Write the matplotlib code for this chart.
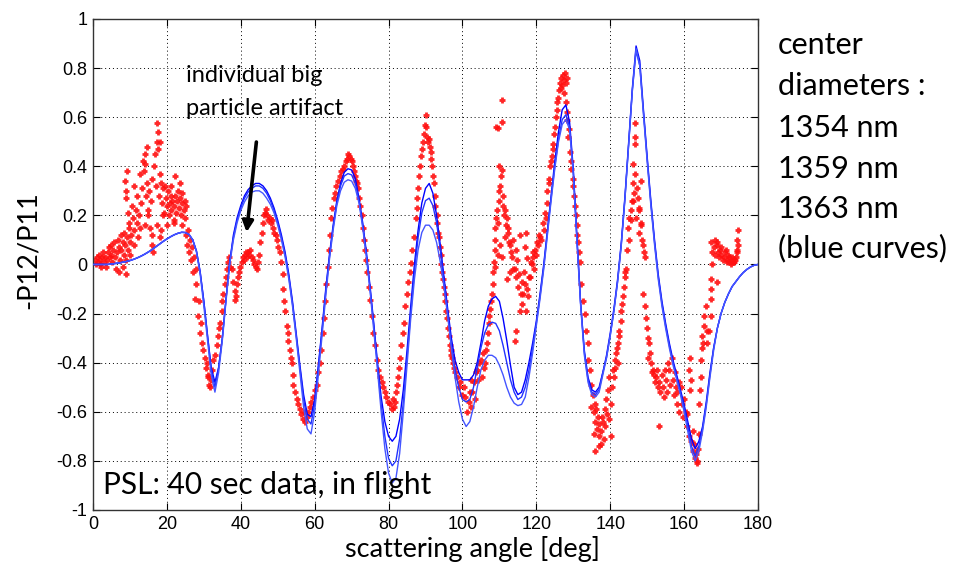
import matplotlib
matplotlib.use("Agg")
import matplotlib.pyplot as plt
import numpy as np

# ---------------- data ----------------
angle = list(range(0, 181))

curve_1354 = [
    0.0, 0.0, 0.0, 0.0, 0.0, 0.002, 0.004, 0.006, 0.009, 0.012,
    0.016, 0.021, 0.027, 0.034, 0.042, 0.051, 0.061, 0.072, 0.083, 0.094,
    0.104, 0.113, 0.121, 0.127, 0.131, 0.130, 0.122, 0.100, 0.055, -0.03,
    -0.15, -0.29, -0.42, -0.48, -0.42, -0.30, -0.14, 0.01, 0.12, 0.19,
    0.24, 0.28, 0.305, 0.32, 0.33, 0.33, 0.32, 0.30, 0.27, 0.23,
    0.18, 0.12, 0.05, -0.04, -0.15, -0.28, -0.41, -0.53, -0.61, -0.62,
    -0.55, -0.41, -0.26, -0.10, 0.04, 0.16, 0.26, 0.33, 0.375, 0.39,
    0.385, 0.35, 0.27, 0.17, 0.05, -0.09, -0.24, -0.40, -0.54, -0.64,
    -0.70, -0.72, -0.70, -0.63, -0.51, -0.35, -0.17, 0.00, 0.14, 0.25,
    0.31, 0.33, 0.29, 0.20, 0.08, -0.05, -0.18, -0.30, -0.39, -0.44,
    -0.47, -0.47, -0.47, -0.45, -0.40, -0.32, -0.23, -0.17, -0.14, -0.13,
    -0.15, -0.22, -0.31, -0.41, -0.50, -0.53, -0.52, -0.47, -0.40, -0.32,
    -0.23, -0.12, 0.00, 0.14, 0.28, 0.42, 0.54, 0.63, 0.65, 0.58,
    0.39, 0.11, -0.16, -0.35, -0.46, -0.51, -0.52, -0.50, -0.44, -0.37,
    -0.28, -0.18, -0.06, 0.09, 0.28, 0.50, 0.72, 0.89, 0.83, 0.63,
    0.44, 0.26, 0.10, -0.04, -0.15, -0.24, -0.32, -0.39, -0.45, -0.51,
    -0.57, -0.64, -0.71, -0.75, -0.72, -0.66, -0.56, -0.44, -0.34, -0.26,
    -0.20, -0.155, -0.12, -0.09, -0.07, -0.05, -0.033, -0.02, -0.01, -0.003,
    0.0]

curve_1359 = [
    0.0, 0.0, 0.0, 0.0, 0.0, 0.002, 0.004, 0.006, 0.009, 0.012,
    0.016, 0.021, 0.027, 0.034, 0.042, 0.051, 0.061, 0.072, 0.083, 0.094,
    0.104, 0.113, 0.121, 0.127, 0.131, 0.130, 0.122, 0.100, 0.055, -0.03,
    -0.15, -0.29, -0.43, -0.50, -0.42, -0.30, -0.14, 0.01, 0.11, 0.18,
    0.23, 0.27, 0.295, 0.31, 0.32, 0.32, 0.31, 0.29, 0.26, 0.22,
    0.17, 0.11, 0.04, -0.05, -0.16, -0.29, -0.42, -0.55, -0.63, -0.65,
    -0.57, -0.42, -0.27, -0.11, 0.03, 0.15, 0.25, 0.32, 0.36, 0.37,
    0.365, 0.33, 0.26, 0.16, 0.04, -0.10, -0.25, -0.41, -0.57, -0.70,
    -0.79, -0.82, -0.80, -0.71, -0.56, -0.38, -0.20, -0.03, 0.11, 0.21,
    0.26, 0.27, 0.24, 0.17, 0.06, -0.07, -0.20, -0.33, -0.43, -0.50,
    -0.55, -0.56, -0.55, -0.50, -0.42, -0.34, -0.28, -0.245, -0.235, -0.24,
    -0.27, -0.33, -0.40, -0.47, -0.52, -0.55, -0.54, -0.50, -0.43, -0.34,
    -0.24, -0.13, -0.01, 0.13, 0.27, 0.40, 0.51, 0.59, 0.61, 0.56,
    0.38, 0.10, -0.16, -0.36, -0.47, -0.52, -0.53, -0.51, -0.44, -0.38,
    -0.29, -0.19, -0.07, 0.08, 0.27, 0.49, 0.71, 0.87, 0.81, 0.62,
    0.43, 0.25, 0.09, -0.05, -0.16, -0.25, -0.33, -0.40, -0.46, -0.52,
    -0.58, -0.66, -0.74, -0.78, -0.74, -0.67, -0.57, -0.45, -0.34, -0.26,
    -0.20, -0.155, -0.12, -0.09, -0.07, -0.05, -0.033, -0.02, -0.01, -0.003,
    0.0]

curve_1363 = [
    0.0, 0.0, 0.0, 0.0, 0.0, 0.002, 0.004, 0.006, 0.009, 0.012,
    0.016, 0.021, 0.027, 0.034, 0.042, 0.051, 0.061, 0.072, 0.083, 0.094,
    0.104, 0.113, 0.121, 0.127, 0.131, 0.130, 0.122, 0.100, 0.05, -0.04,
    -0.17, -0.31, -0.45, -0.52, -0.44, -0.31, -0.15, 0.0, 0.10, 0.17,
    0.22, 0.255, 0.28, 0.295, 0.30, 0.30, 0.29, 0.27, 0.245, 0.21,
    0.16, 0.10, 0.03, -0.06, -0.17, -0.30, -0.44, -0.58, -0.67, -0.69,
    -0.60, -0.45, -0.29, -0.13, 0.02, 0.14, 0.24, 0.30, 0.335, 0.345,
    0.34, 0.31, 0.25, 0.15, 0.03, -0.11, -0.27, -0.43, -0.60, -0.75,
    -0.85, -0.89, -0.87, -0.77, -0.60, -0.41, -0.22, -0.06, 0.06, 0.13,
    0.16, 0.16, 0.14, 0.09, 0.01, -0.09, -0.21, -0.34, -0.46, -0.56,
    -0.63, -0.66, -0.64, -0.58, -0.50, -0.43, -0.39, -0.37, -0.37, -0.38,
    -0.41, -0.45, -0.50, -0.54, -0.565, -0.575, -0.57, -0.54, -0.46, -0.36,
    -0.25, -0.14, -0.02, 0.12, 0.26, 0.39, 0.50, 0.57, 0.59, 0.55,
    0.37, 0.09, -0.17, -0.37, -0.48, -0.53, -0.54, -0.52, -0.45, -0.38,
    -0.29, -0.19, -0.07, 0.08, 0.27, 0.49, 0.71, 0.88, 0.81, 0.61,
    0.42, 0.24, 0.08, -0.06, -0.17, -0.26, -0.34, -0.41, -0.47, -0.53,
    -0.60, -0.68, -0.76, -0.80, -0.76, -0.68, -0.58, -0.46, -0.35, -0.26,
    -0.20, -0.155, -0.12, -0.09, -0.07, -0.05, -0.033, -0.02, -0.01, -0.003,
    0.0]

meas_angle = [
    0.5, 0.8, 1.0, 1.3, 1.5, 1.8, 2.0, 2.2, 2.5, 2.8, 3.0, 3.3, 3.5, 3.8, 4.0, 4.2, 4.5, 4.8, 5.0, 5.2,
    5.5, 5.8, 6.0, 6.2, 6.5, 6.7, 7.0, 7.0, 7.3, 7.5, 7.7, 8.0, 8.0, 8.3, 8.5, 8.7, 8.8, 9.0, 9.2, 9.5,
    9.7, 10.0, 10.0,
    8.7, 8.9, 9.0, 9.2, 9.5, 9.8, 10.2, 10.5, 10.8, 11.0, 11.2, 11.5, 11.8, 12.0, 12.3, 12.5, 12.8, 12.8,
    13.0, 13.2, 13.5, 13.7, 14.0, 14.1, 14.3, 14.5, 14.6, 14.8, 15.0, 15.2, 15.5, 15.7, 15.9, 16.0, 16.2,
    16.5, 16.8, 17.0, 17.3, 17.3, 17.3, 17.5, 17.6, 17.8, 18.0, 18.2, 18.2, 18.5, 18.7, 19.0, 19.3, 19.5,
    19.8, 20.0, 20.4, 20.5, 20.8, 21.0, 21.2, 21.5, 21.8, 22.0, 22.2, 22.3, 22.5, 22.8, 23.0, 23.2, 23.5,
    23.6, 23.8, 24.0, 24.2, 24.5, 24.8, 25.0, 25.2, 19.0, 18.5, 16.0, 14.0, 11.0, 20.0, 21.0, 22.0, 24.0,
    25.3, 25.5, 25.8, 26.0, 26.2, 26.5, 26.8, 27.0, 27.3, 27.6, 27.8, 28.0, 28.3, 28.6, 29.0, 29.3, 29.6,
    29.9, 30.2, 30.5, 30.8, 31.0, 31.2, 31.5, 31.7, 31.9, 32.2, 32.6, 33.0, 33.5, 33.8, 34.1, 34.4, 34.8,
    35.0, 35.3, 35.6, 35.9, 36.2, 36.5, 36.8,
    37.2, 37.6, 38.0, 38.3, 38.5, 38.7, 38.9, 39.2, 39.5, 39.8, 40.2, 40.5, 40.8, 41.1, 41.4, 41.7, 42.0,
    42.3, 42.6, 43.0, 43.3, 43.6, 44.0, 44.3, 44.6, 45.0, 45.3, 45.7, 46.0, 46.3, 46.6, 46.9, 47.2, 47.5,
    47.8, 48.1, 48.4, 48.7, 49.0, 49.4, 49.8, 50.2, 50.6, 51.0, 51.3, 51.5, 51.8, 52.1, 52.4, 52.7, 52.9,
    53.2, 53.5, 53.8, 54.0, 54.2, 54.6, 55.1, 55.5, 56.0, 56.4, 56.9, 57.2, 57.5, 57.8, 58.2, 58.7, 59.1,
    59.6, 60.0, 60.5, 60.9, 61.4, 61.8, 62.2, 62.5, 62.9, 63.2, 63.5, 63.8, 64.1, 64.5, 64.8, 65.2, 65.5,
    65.9, 66.3, 66.8, 67.2, 67.6, 68.0, 68.4, 68.8, 69.1, 69.4, 69.7, 70.0, 70.3, 70.6, 70.9, 71.2, 71.5,
    71.8, 72.1, 72.4, 72.7, 73.0, 73.3, 73.6, 73.9, 74.2, 74.6, 75.0, 75.4, 75.9, 76.3, 76.8, 77.2, 77.7,
    78.1, 78.5, 79.0, 79.4, 79.9, 80.4, 80.8, 81.2, 81.5, 81.7, 82.0, 82.2, 82.5, 82.8, 83.1, 83.4, 83.8,
    84.1, 84.5, 84.9, 85.3, 85.7, 86.0, 86.4, 86.9, 87.3, 87.6, 87.8, 88.0, 88.2, 88.5, 88.7, 89.0, 89.3,
    89.6, 89.8, 90.0, 90.2, 90.5, 90.7, 90.9, 91.2, 91.4, 91.6, 91.8, 92.0, 92.3, 92.5, 92.7, 93.0, 93.2,
    93.4, 93.6, 93.9, 94.1, 94.3, 94.5, 94.7, 94.9, 95.2, 95.4, 95.6, 95.8, 96.1, 96.3, 96.6, 96.8, 97.0,
    97.2, 97.4, 97.6, 98.0, 98.5, 99.0, 99.4, 99.9, 100.3, 100.8, 101.2, 101.7, 102.0, 102.2, 102.4, 102.6,
    103.1, 103.3, 103.6, 104.0, 104.3, 104.5, 104.9, 105.2, 105.5, 105.8,
    106.1, 106.4, 106.6, 106.9, 107.1, 107.3, 107.5, 107.8, 108.0, 108.2, 108.4, 108.6, 108.9, 108.7,
    108.9, 109.1, 109.3, 109.5, 109.8, 110.0, 110.2, 110.4, 110.6, 109.8, 109.2, 109.6, 110.7, 110.8,
    111.0, 111.1, 111.3, 111.5, 111.5, 111.8, 112.0, 112.2, 112.4, 112.6, 112.9, 113.1, 113.3, 110.6,
    110.2, 109.5, 108.9, 113.6, 113.8, 114.2, 114.4, 114.6, 114.8, 115.1, 115.3, 115.6, 115.8, 116.0,
    116.2, 116.5, 116.7, 116.9, 117.1, 117.4, 117.6, 117.8, 118.0, 118.3, 118.5, 118.7, 119.0, 119.2,
    119.4, 119.6, 120.0, 120.2, 120.5, 120.8, 121.0, 121.4, 114.6, 114.2, 113.0, 112.0, 115.5, 116.8, 117.3,
    121.9, 122.1, 122.4, 122.6, 122.8, 123.0, 123.3, 123.5, 123.7, 124.0, 124.2, 124.4, 124.6, 124.8,
    125.0, 125.2, 125.5, 125.7, 125.9, 126.1, 126.4, 126.6, 126.8, 127.0, 127.2, 127.4, 127.5, 127.7,
    127.9, 128.0, 128.2, 128.2, 128.4, 128.6, 128.8, 129.1, 129.3, 129.5, 129.8, 130.0, 130.2, 130.4,
    130.7, 130.9, 131.1, 131.4, 131.6, 131.8,
    132.2, 132.6, 133.1, 133.5, 134.0, 134.0, 134.4, 134.9, 135.3, 135.6, 135.8, 136.0, 136.2, 136.5,
    136.7, 137.0, 137.1, 137.4, 137.6, 137.8, 138.0, 138.2, 138.5, 138.7, 138.9, 139.1, 139.3, 139.6,
    139.8, 140.1, 140.3, 140.5, 140.7, 141.0, 141.2, 141.4, 141.6, 141.9, 142.1, 142.3, 142.5, 142.8,
    143.0, 143.2, 143.4, 143.6, 143.9, 144.1, 144.3, 136.0, 137.0, 135.5, 134.8, 142.1,
    144.5, 144.8, 145.0, 145.2, 145.5, 145.6, 145.8, 146.1, 146.1, 146.3, 146.5, 146.6, 146.6, 146.7,
    146.8, 147.0, 147.2, 147.5, 147.7, 147.9, 147.9, 148.2, 148.4, 148.4, 148.6, 148.8, 149.1, 149.3, 149.0,
    149.3, 149.7, 150.0, 150.2, 150.4, 150.2, 150.7, 151.1, 151.3, 151.5, 151.9, 152.2, 152.4, 152.7,
    153.0, 153.3, 153.3, 153.6, 153.9, 154.2, 154.5, 154.8, 155.1, 155.4, 155.7, 156.0, 156.3, 156.6,
    156.9, 157.2, 157.5, 157.8, 158.0, 158.2, 158.5, 158.7, 159.1, 159.5, 159.8, 160.0, 160.4, 160.7,
    160.9, 161.2, 161.4, 161.6, 161.8, 161.6, 162.0, 162.3, 162.5, 162.7, 162.9, 163.1, 163.4, 163.6,
    163.8, 164.0,
    164.0, 164.2, 164.5, 164.5, 164.9, 164.9, 165.2, 165.4, 165.4, 165.8, 166.3, 166.3, 166.7, 167.2,
    167.2, 167.2, 167.4, 167.6, 167.6, 167.4, 168.1, 168.5, 168.3, 168.8, 169.0, 169.2, 169.0, 169.4,
    169.7, 169.9, 170.1, 170.4, 170.8, 171.0, 171.3, 171.5, 171.7, 172.0, 172.2, 172.4, 172.6, 172.9,
    173.1, 173.3, 173.5, 173.8, 174.0, 174.2, 174.4, 174.4, 174.6, 174.5]

meas_value = [
    0.02, 0.0, 0.03, 0.01, 0.04, 0.0, 0.02, -0.01, 0.03, 0.05, 0.01, 0.03, -0.01, 0.02, 0.05, 0.07, 0.03, 0.08, 0.04, 0.01,
    0.06, 0.09, 0.03, -0.02, 0.05, 0.10, 0.07, -0.03, 0.02, 0.12, 0.06, 0.09, -0.01, 0.04, 0.13, 0.08, -0.04, 0.02, 0.11, 0.06,
    0.15, 0.09, 0.04,
    0.34, 0.30, 0.27, 0.38, 0.21, 0.17, 0.12, 0.24, 0.19, 0.14, 0.08, 0.22, 0.28, 0.17, 0.11, 0.20, 0.15, 0.37,
    0.25, 0.31, 0.42, 0.38, 0.45, 0.41, 0.28, 0.33, 0.48, 0.22, 0.20, 0.30, 0.15, 0.26, 0.08, 0.35, 0.05,
    0.40, 0.45, 0.32, 0.575, 0.50, 0.16, 0.54, 0.47, 0.28, 0.11, 0.37, 0.50, 0.33, 0.25, 0.31, 0.21, 0.32,
    0.27, 0.24, 0.30, 0.20, 0.25, 0.28, 0.22, 0.26, 0.18, 0.24, 0.36, 0.28, 0.21, 0.26, 0.30, 0.23, 0.33,
    0.27, 0.20, 0.25, 0.29, 0.22, 0.26, 0.19, 0.24, 0.20, 0.14, 0.12, 0.16, 0.32, 0.16, 0.32, 0.17, 0.16,
    0.12, 0.08, 0.14, 0.05, 0.10, 0.02, 0.07, -0.03, 0.03, -0.14, -0.08, -0.02, -0.21, -0.15, -0.28, -0.24, -0.32,
    -0.35, -0.38, -0.42, -0.40, -0.45, -0.46, -0.49, -0.50, -0.47, -0.43, -0.39, -0.37, -0.33, -0.29, -0.26, -0.24, -0.19,
    -0.15, -0.12, -0.08, -0.05, -0.02, 0.01, 0.03,
    -0.01, -0.02, -0.07, -0.11, -0.145, -0.13, -0.08, -0.05, -0.03, -0.01, 0.01, 0.03, 0.02, 0.04, 0.05, 0.03, 0.05,
    0.04, 0.06, 0.03, 0.02, 0.0, -0.01, -0.02, 0.01, 0.04, 0.09, 0.13, 0.17, 0.20, 0.21, 0.225, 0.20, 0.18,
    0.19, 0.17, 0.18, 0.15, 0.13, 0.12, 0.10, 0.07, 0.05, 0.01, -0.04, -0.10, -0.15, -0.19, -0.25, -0.28, -0.31,
    -0.35, -0.38, -0.40, -0.45, -0.49, -0.52, -0.55, -0.57, -0.59, -0.61, -0.63, -0.60, -0.64, -0.62, -0.60, -0.58, -0.56,
    -0.54, -0.51, -0.49, -0.44, -0.40, -0.35, -0.28, -0.22, -0.15, -0.08, -0.01, 0.06, 0.12, 0.19, 0.23, 0.27, 0.29,
    0.32, 0.34, 0.36, 0.38, 0.39, 0.40, 0.42, 0.43, 0.45, 0.44, 0.43, 0.42, 0.40, 0.38, 0.36, 0.34, 0.33,
    0.31, 0.27, 0.24, 0.20, 0.15, 0.10, 0.06, 0.02, -0.03, -0.09, -0.145, -0.21, -0.28, -0.33, -0.39, -0.43, -0.46,
    -0.48, -0.50, -0.52, -0.54, -0.56, -0.57, -0.59, -0.55, -0.58, -0.56, -0.52, -0.49, -0.46, -0.42, -0.38, -0.33, -0.28,
    -0.24, -0.17, -0.12, -0.07, -0.03, 0.005, 0.06, 0.11, 0.19, 0.23, 0.27, 0.31, 0.36, 0.40, 0.44, 0.47, 0.50,
    0.53, 0.57, 0.61, 0.56, 0.52, 0.50, 0.51, 0.48, 0.46, 0.43, 0.40, 0.36, 0.33, 0.28, 0.24, 0.20, 0.17,
    0.13, 0.11, 0.07, 0.04, 0.00, -0.03, -0.06, -0.09, -0.12, -0.15, -0.19, -0.22, -0.26, -0.29, -0.33, -0.35, -0.37,
    -0.38, -0.40, -0.42, -0.44, -0.46, -0.50, -0.48, -0.53, -0.50, -0.54, -0.60, -0.56, -0.52, -0.58, -0.47, -0.52,
    -0.48, -0.55, -0.44, -0.43, -0.47, -0.40, -0.39, -0.46, -0.36, -0.42,
    -0.40, -0.35, -0.32, -0.28, -0.24, -0.21, -0.18, -0.15, -0.12, -0.08, -0.03, 0.01, 0.06, 0.10,
    0.15, 0.19, 0.22, 0.17, 0.26, 0.30, 0.32, 0.36, 0.385, 0.40, 0.56, 0.555, 0.58, 0.67,
    0.28, 0.24, 0.20, 0.22, 0.11, 0.16, 0.19, 0.13, 0.15, 0.09, 0.08, 0.05, 0.03, 0.03,
    0.08, 0.04, -0.01, 0.10, -0.02, -0.02, 0.06, -0.05, 0.02, -0.09, -0.04, -0.19, -0.12, -0.16,
    -0.07, -0.12, -0.03, -0.08, -0.19, 0.025, -0.10, -0.13, -0.05, -0.05, 0.01, 0.0, 0.05, 0.03,
    -0.02, 0.06, 0.04, 0.09, 0.08, 0.12, 0.11, 0.10, -0.27, -0.31, -0.03, -0.06, 0.12, 0.07, 0.13,
    0.17, 0.14, 0.21, 0.19, 0.25, 0.30, 0.35, 0.33, 0.40, 0.42, 0.44, 0.47, 0.49, 0.53,
    0.56, 0.60, 0.63, 0.66, 0.68, 0.71, 0.74, 0.72, 0.76, 0.73, 0.77, 0.70, 0.75, 0.78,
    0.74, 0.66, 0.76, 0.59, 0.62, 0.52, 0.55, 0.46, 0.42, 0.39, 0.35, 0.32, 0.28, 0.24,
    0.20, 0.16, 0.12, 0.09, 0.05, 0.01,
    -0.08, -0.15, -0.20, -0.27, -0.32, -0.39, -0.43, -0.49, -0.53, -0.60, -0.57, -0.64, -0.59, -0.67,
    -0.62, -0.70, -0.65, -0.73, -0.68, -0.62, -0.64, -0.71, -0.59, -0.66, -0.55, -0.61, -0.51, -0.63,
    -0.46, -0.57, -0.70, -0.50, -0.43, -0.46, -0.39, -0.42, -0.36, -0.34, -0.32, -0.29, -0.27, -0.23,
    -0.19, -0.16, -0.13, -0.09, -0.05, -0.03, -0.02, -0.76, -0.74, -0.69, -0.58, -0.40,
    0.06, 0.15, 0.10, 0.19, 0.22, 0.18, 0.26, 0.26, 0.41, 0.33, 0.29, 0.49, 0.575, 0.52,
    0.37, 0.19, 0.31, 0.27, 0.23, 0.22, 0.13, 0.17, 0.16, 0.34, 0.10, 0.08, 0.05, 0.03, -0.12,
    -0.17, -0.22, -0.26, -0.30, -0.32, -0.38, -0.36, -0.40, -0.44, -0.43, -0.45, -0.48, -0.46, -0.43,
    -0.50, -0.48, -0.66, -0.52, -0.45, -0.50, -0.54, -0.43, -0.47, -0.52, -0.40, -0.43, -0.49, -0.38,
    -0.47, -0.53, -0.44, -0.50, -0.57, -0.52, -0.60, -0.48, -0.50, -0.57, -0.62, -0.55, -0.60, -0.66,
    -0.61, -0.70, -0.43, -0.38, -0.47, -0.51, -0.72, -0.68, -0.76, -0.73, -0.79, -0.77, -0.81, -0.80,
    -0.75, -0.69,
    -0.57, -0.51, -0.46, -0.39, -0.34, -0.29, -0.32, -0.25, -0.21, -0.17, -0.32, -0.27, -0.27, -0.21,
    -0.14, -0.06, -0.10, 0.0, 0.05, 0.09, 0.07, 0.04, 0.10, 0.09, 0.08, 0.05, -0.07, 0.03,
    0.06, 0.07, 0.04, 0.02, 0.03, 0.05, 0.06, 0.02, 0.01, 0.04, 0.03, 0.01, 0.0, 0.02,
    0.03, 0.01, 0.01, 0.02, 0.03, 0.05, 0.06, 0.10, 0.14, 0.08]

x_ticks = [0, 20, 40, 60, 80, 100, 120, 140, 160, 180]
y_ticks = [-1, -0.8, -0.6, -0.4, -0.2, 0, 0.2, 0.4, 0.6, 0.8, 1]
y_tick_labels = ["-1", "-0.8", "-0.6", "-0.4", "-0.2", "0", "0.2", "0.4", "0.6", "0.8", "1"]
legend_lines = ["center", "diameters :", "1354 nm", "1359 nm", "1363 nm", "(blue curves)"]

# ---------------- figure ----------------
TXT = "Lato"
TICK = "Liberation Sans"

fig = plt.figure(figsize=(9.55, 5.73), dpi=100)
ax = fig.add_axes([0.0974, 0.110, 0.6963, 0.8569])

ax.plot(meas_angle, meas_value, linestyle="none", marker="+", ms=5.0, mew=2.0,
        color="#ff1010", alpha=0.9, zorder=2)
for c, col in zip([curve_1354, curve_1359, curve_1363], ["#0000ff", "#2233ff", "#4455ff"]):
    ax.plot(angle, c, color=col, lw=1.0, zorder=3)

ax.set_xlim(0, 180)
ax.set_ylim(-1, 1)
ax.set_xticks(x_ticks)
ax.set_yticks(y_ticks)
ax.set_yticklabels(y_tick_labels)
ax.tick_params(direction="in", top=True, right=True, length=5, width=0.8,
               labelsize=13, pad=4)
for lab in ax.get_xticklabels() + ax.get_yticklabels():
    lab.set_fontfamily(TICK)
ax.grid(True, linestyle=(0, (1, 3)), color="black", lw=0.7)
for s in ax.spines.values():
    s.set_color("#333333")
    s.set_linewidth(1.0)

ax.set_xlabel("scattering angle [deg]", fontsize=19.5, family=TXT)
ax.xaxis.set_label_coords(0.571, -0.052)
ax.set_ylabel("-P12/P11", fontsize=19.5, family=TXT)
ax.yaxis.set_label_coords(-0.078, 0.53)

ax.annotate("", xy=(41.5, 0.12), xytext=(44.3, 0.51),
            arrowprops=dict(arrowstyle="-|>", lw=2.6, color="black", mutation_scale=16))
ax.text(25.2, 0.77, "individual big", fontsize=17, family=TXT, va="center")
ax.text(25.2, 0.635, "particle artifact", fontsize=17, family=TXT, va="center")
ax.text(2.7, -0.90, "PSL: 40 sec data, in flight", fontsize=21.5, family=TXT, va="center")

tops = [45, 86, 128, 169, 209, 248]
for t, y in zip(legend_lines, tops):
    fig.text(778 / 955, 1 - y / 573, t, fontsize=22, family=TXT, va="center", ha="left")

fig.savefig("out.png", dpi=100)
